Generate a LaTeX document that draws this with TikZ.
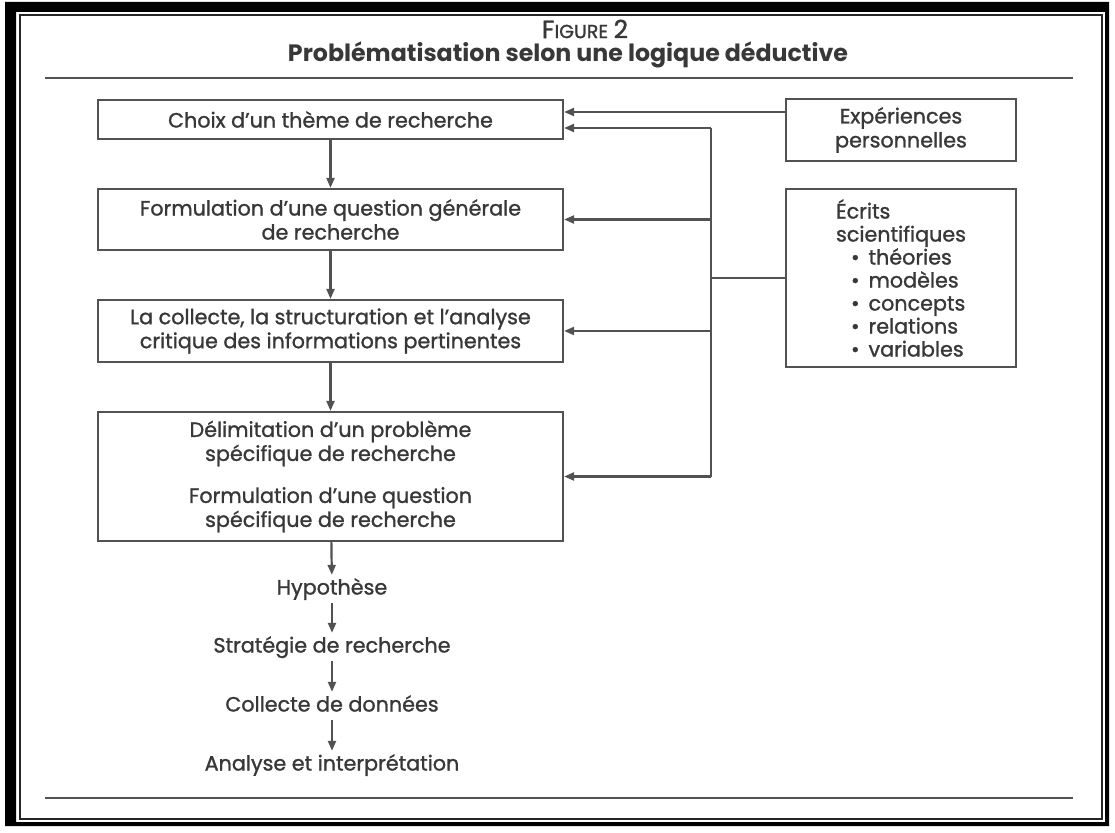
\documentclass[tikz,border=0pt]{standalone}
\usepackage{fontspec}
\setmainfont{Poppins}[UprightFeatures={FakeBold=1.2}]
\usepackage{xcolor}
\usepackage{tikz}
\usetikzlibrary{calc,arrows.meta,positioning}

\begin{document}
\begin{tikzpicture}[x=1pt, y=-1pt,
  >={Triangle[length=10pt, width=8pt]},
  txt/.style={font=\fontsize{20.7}{24}\selectfont, text=black!78},
  stage/.style={txt, draw=black!68, line width=2.2pt, align=center, minimum width=465pt, inner sep=0pt},
  source/.style={txt, draw=black!68, line width=2.2pt, minimum width=230pt, inner sep=0pt},
  plain/.style={txt, inner sep=4.5pt, text height=15pt, text depth=4pt},
  link/.style={->, draw=black!68, line width=2.2pt},
  rule/.style={draw=black!68, line width=2.6pt}]

\useasboundingbox (0,0) rectangle (1115,832);
\fill[white] (0,0) rectangle (1115,832);

% Frame
\fill[black, even odd rule] (5,2) rectangle (1109,826) (16,12) rectangle (1105,822);
\draw[black!85, line width=2pt] (20,15) rectangle (1102,819);

% Title
\node[txt] (fig) at (585,29) {{\fontsize{25}{28}\selectfont F}{\fontsize{19}{22}\selectfont IGURE} {\fontsize{25}{28}\selectfont 2}};
\node[txt, font=\fontsize{23.7}{28}\selectfont\bfseries] (title) at (568,55) {Problématisation selon une logique déductive};
\draw[rule] (45,78) -- (1073,78);
\draw[rule] (45,798) -- (1073,798);

% Stages
\node[stage, minimum height=39pt] (theme) at (330.5,119.5) {Choix d’un thème de recherche};
\node[stage, minimum height=61pt] (gen) at (330.5,219.5) {Formulation d’une question générale\\de recherche};
\node[stage, minimum height=62pt] (info) at (330.5,331) {La collecte, la structuration et l’analyse\\critique des informations pertinentes};
\node[stage, minimum height=129pt] (spec) at (330.5,476.5) {Délimitation d’un problème\\spécifique de recherche\\[18pt]Formulation d’une question\\spécifique de recherche};

\node[plain] (hyp) at (332,589) {Hypothèse};
\node[plain] (strat) at (332,647) {Stratégie de recherche};
\node[plain] (data) at (332,706) {Collecte de données};
\node[plain] (anal) at (332,765) {Analyse et interprétation};

% Sources
\node[source, align=center, minimum height=62pt] (exp) at (901,130) {Expériences\\personnelles};
\node[source, align=left, minimum height=178pt, font=\fontsize{20.7}{23}\selectfont] (ecr) at (901,278) {Écrits\\scientifiques\\
  \hspace*{15pt}\textbullet\hspace{9pt}théories\\
  \hspace*{15pt}\textbullet\hspace{9pt}modèles\\
  \hspace*{15pt}\textbullet\hspace{9pt}concepts\\
  \hspace*{15pt}\textbullet\hspace{9pt}relations\\
  \hspace*{15pt}\textbullet\hspace{9pt}variables};

% Main flow
\draw[link] (theme) -- (gen);
\draw[link] (gen) -- (info);
\draw[link] (info) -- (spec);
\draw[link] (spec) -- (hyp);
\draw[link] (hyp) -- (strat);
\draw[link] (strat) -- (data);
\draw[link] (data) -- (anal);

% Feedback from the sources
\coordinate (t1) at ([yshift=7.5pt]theme.east);
\coordinate (t2) at ([yshift=-8.5pt]theme.east);
\coordinate (bus) at (711,278);
\draw[link] (exp.west |- t1) -- (t1);
\draw[link, -] (ecr.west) -- (bus);
\draw[link, -] (bus |- t2) -- (bus |- spec.east);
\draw[link] (bus |- t2) -- (t2);
\draw[link] (bus |- gen.east) -- (gen.east);
\draw[link] (bus |- info.east) -- (info.east);
\draw[link] (bus |- spec.east) -- (spec.east);

\end{tikzpicture}
\end{document}
